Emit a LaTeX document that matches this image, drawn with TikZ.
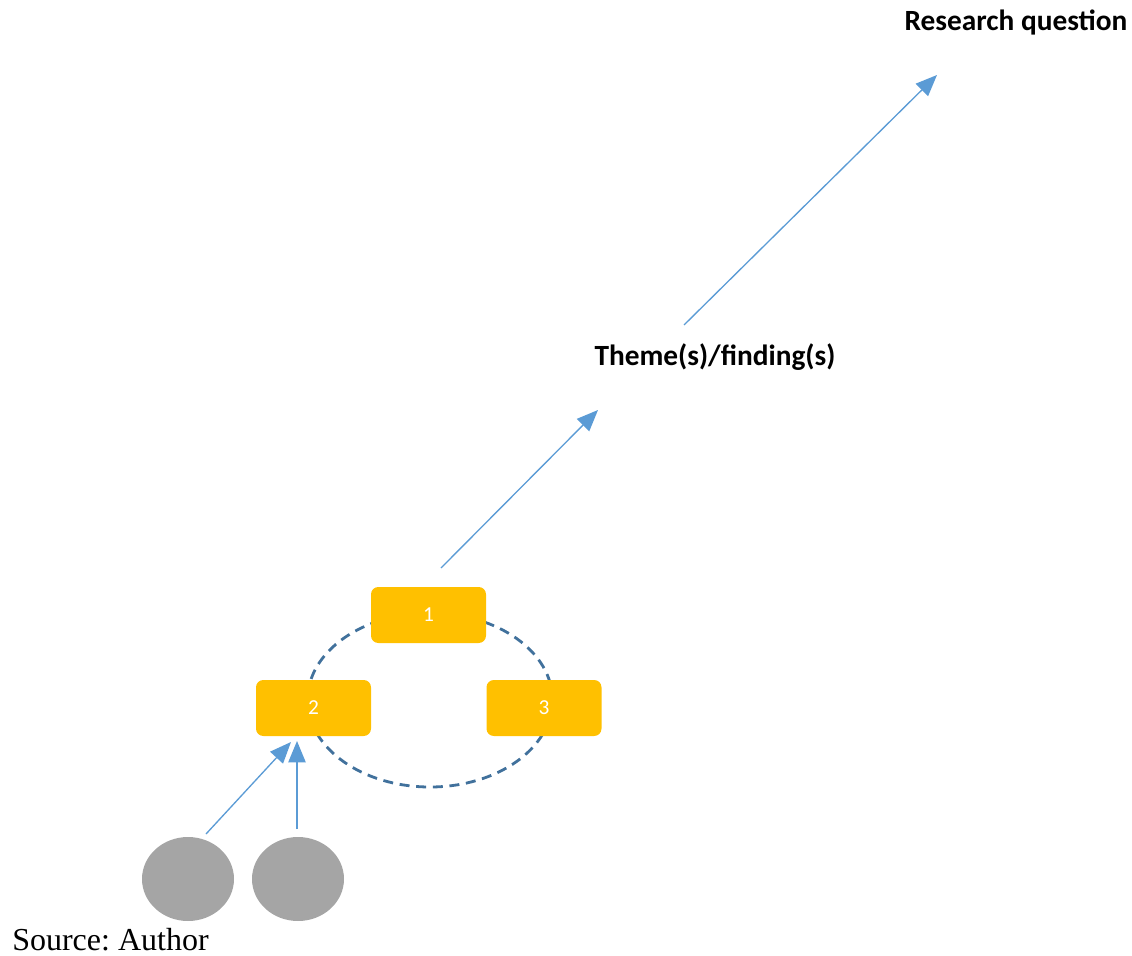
\documentclass[tikz,border=0pt]{standalone}
\usepackage{fontspec}
\setmainfont{Liberation Serif}
\newfontfamily\calibri{Carlito}
\usetikzlibrary{arrows.meta,shapes.geometric}
\definecolor{boxgold}{RGB}{255,192,0}
\definecolor{arrowblue}{RGB}{91,155,213}
\definecolor{ringblue}{RGB}{65,113,156}
\definecolor{dotgray}{RGB}{165,165,165}
\tikzset{
  codebox/.style={fill=boxgold, rounded corners=5.5pt, minimum width=86.25pt,
    minimum height=42pt, inner sep=0pt, text=white, font=\calibri\fontsize{16}{19}\selectfont},
  flow/.style={draw=arrowblue, line width=1pt,
    -{Triangle[length=16pt,width=13pt]}, arrowblue},
  heading/.style={font=\calibri\bfseries\fontsize{22}{26}\selectfont, inner sep=0pt},
  datum/.style={ellipse, fill=dotgray, minimum width=69pt, minimum height=63pt, inner sep=0pt},
  ring/.style={ellipse, draw=ringblue, line width=2.1pt, dash pattern=on 7.5pt off 5pt,
    minimum width=183.75pt, minimum height=130.5pt, inner sep=0pt}
}
\begin{document}
\frenchspacing
\begin{tikzpicture}[x=0.75pt,y=-0.75pt]
\useasboundingbox (0,0) rectangle (1132,956);

% dashed cycle linking the three codes
\node[ring] (cycle) at (430,700) {};

% codes
\node[codebox] (b1) at (428.5,615) {1};
\node[codebox] (b2) at (313.5,708) {2};
\node[codebox] (b3) at (544,708) {3};

% data items
\node[datum] (d1) at (188,879) {};
\node[datum] (d2) at (298,879) {};

% headings
\node[heading] (theme) at (715,357) {Theme(s)/finding(s)};
\node[heading] (rq) at (1016,22) {Research question};

% source line
\node[anchor=base west, inner sep=0pt, font=\fontsize{24}{28}\selectfont] (src) at (12,950) {Source: Author};

% arrow end points
\coordinate (d1s) at (206,834);
\coordinate (d2s) at (297,829);
\coordinate (b2a) at (291,742);
\coordinate (b2b) at (297,741);
\coordinate (b1s) at (441,568);
\coordinate (th1) at (598,410);
\coordinate (th2) at (684,325);
\coordinate (rqe) at (937,75);

\draw[flow] (d1s) -- (b2a);
\draw[flow] (d2s) -- (b2b);
\draw[flow] (b1s) -- (th1);
\draw[flow] (th2) -- (rqe);
\end{tikzpicture}
\end{document}
